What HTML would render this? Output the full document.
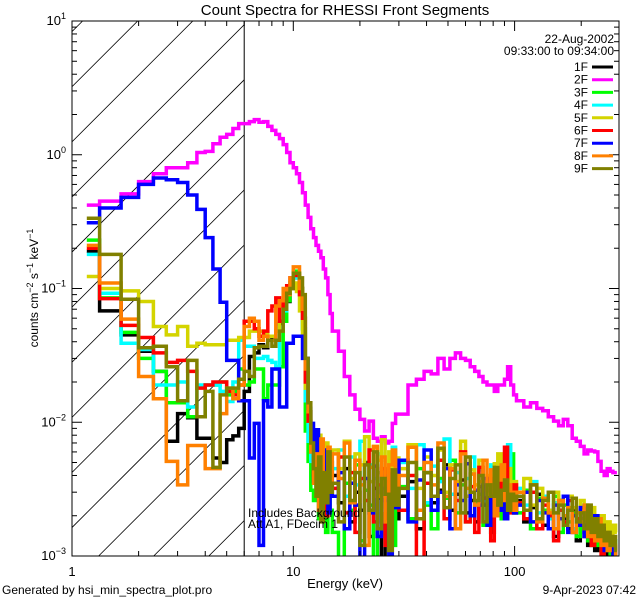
<!DOCTYPE html>
<html><head><meta charset="utf-8"><style>
html,body{margin:0;padding:0;background:#fff;}
svg{display:block;font-family:"Liberation Sans",sans-serif;}
</style></head><body>
<svg id="chart" width="640" height="600" viewBox="0 0 640 600" xmlns="http://www.w3.org/2000/svg">
<defs><clipPath id="plotclip"><rect x="72" y="21" width="547" height="535"/></clipPath>
<clipPath id="hatchclip"><rect x="72" y="21" width="172" height="535"/></clipPath></defs>
<rect width="640" height="600" fill="#fff"/>
<text x="345" y="15" font-size="15" text-anchor="middle">Count Spectra for RHESSI Front Segments</text>
<g id="hatch" clip-path="url(#hatchclip)"></g>
<line x1="244.2" y1="21" x2="244.2" y2="556" stroke="#000" stroke-width="1"/>
<g id="series" clip-path="url(#plotclip)"></g>
<rect x="72" y="21" width="547" height="535" fill="none" stroke="#000" stroke-width="1"/>
<g id="axes"></g>
<text x="345" y="588" font-size="13" text-anchor="middle">Energy (keV)</text>
<text transform="translate(38,288) rotate(-90)" font-size="12" text-anchor="middle">counts cm<tspan dy="-5" font-size="9">−2</tspan><tspan dy="5"> s</tspan><tspan dy="-5" font-size="9">−1</tspan><tspan dy="5"> keV</tspan><tspan dy="-5" font-size="9">−1</tspan></text>
<text x="614" y="43" font-size="12" text-anchor="end">22-Aug-2002</text>
<text x="614" y="55" font-size="12" text-anchor="end">09:33:00 to 09:34:00</text>
<g id="legend"></g>
<text x="248" y="517" font-size="12">Includes Background</text>
<text x="248" y="528" font-size="12">Att A1, FDecim 1</text>
<text x="2" y="594" font-size="12">Generated by hsi_min_spectra_plot.pro</text>
<text x="636" y="594" font-size="12" text-anchor="end">9-Apr-2023 07:42</text>
</svg>
<script>
// ---- data ----
const segmentNames = ["1F","2F","3F","4F","5F","6F","7F","8F","9F"];
const segmentColors = ["#000000","#ff00ff","#00ff00","#00ffff","#d4d400","#ff0000","#0000ff","#ff8000","#808000"];
const xTickValues = [1,10,100];
const xTickLabels = ["1","10","100"];
const yTickExponents = [-3,-2,-1,0,1];
const s1F = [0.19,0.068,0.045,0.034,0.024,0.0072,0.0116,0.0108,0.0076,0.0076,0.0054,0.005,0.0074,0.0079,0.009,0.017,0.031,0.033,0.038,0.036,0.044,0.041,0.048,0.055,0.068,0.08,0.10,0.12,0.12,0.10,0.06,0.025,0.012,0.008,0.005,0.0045,0.003,0.006,0.0022,0.0035,0.0028,0.004,
0.004,0.0025,0.0045,0.0018,0.003,0.0022,0.005,0.0014,0.0032,0.0027,0.0009,0.004,0.0024,0.0035,0.0019,
0.0028,0.0036,0.0016,0.0042,0.0025,0.0031,0.0048,0.0022,0.0029,0.0037,0.0021,0.0026,0.0018,0.0033,0.0024,0.0027,0.0015,0.0038,0.0022,0.0029,0.0019,0.0025,0.0031,0.0021,
0.0026,0.0018,0.0023,0.0029,0.0017,0.0021,0.0014,0.0026,0.0019,0.0016,0.0022,0.0013,0.0018,0.0015,0.0012,0.0017,0.0011,0.0014,0.0012,0.0010,0.0013,0.0011,0.0012,0.0010];
const s2F = [0.42,0.45,0.51,0.63,0.72,0.80,0.80,0.87,1.04,1.06,1.21,1.35,1.42,1.57,1.71,1.71,1.77,1.83,1.75,1.77,1.63,1.52,1.42,1.32,1.19,1.04,0.87,0.80,0.72,0.62,0.52,0.42,0.34,0.28,0.24,0.21,0.19,0.17,0.14,0.12,0.09,0.065,
0.048,0.034,0.022,0.016,0.0125,0.0105,0.0086,0.0102,0.0076,0.0072,0.0078,0.0070,0.0072,0.0098,0.0115,
0.0115,0.019,0.021,0.024,0.023,0.030,0.025,0.030,0.033,0.030,0.029,0.026,0.024,0.022,0.020,0.019,0.019,0.017,0.019,0.019,0.021,0.026,0.019,0.016,
0.0145,0.013,0.014,0.0127,0.0122,0.011,0.0102,0.0094,0.0105,0.0094,0.0076,0.0072,0.0066,0.0058,0.0062,0.0061,0.0060,0.0051,0.0043,0.0040,0.0045,0.0043,0.0042,0.0042];
const s3F = [0.23,0.085,0.047,0.030,0.024,0.014,0.014,0.011,0.011,0.019,0.019,0.02,0.016,0.017,0.025,0.019,0.02,0.025,0.025,0.015,0.019,0.019,0.019,0.026,0.057,0.081,0.11,0.135,0.13,0.10,0.05,0.0086,0.0051,0.0031,0.0026,0.0045,0.0019,0.0035,0.0025,0.0015,0.0030,0.0022,
0.0015,0.0009,0.0035,0.0022,0.0048,0.0013,0.0031,0.0024,0.0008,0.0042,0.0019,0.0028,0.0036,0.0012,0.0026,
0.0033,0.0019,0.0045,0.0024,0.0016,0.0038,0.0027,0.0052,0.0021,0.0034,0.0018,0.0041,0.0025,0.0029,0.0017,0.0036,0.0022,0.0031,0.0026,0.0019,0.0028,0.0035,0.0058,0.0024,
0.0021,0.0031,0.0016,0.0027,0.0022,0.0019,0.0028,0.0015,0.0024,0.0018,0.0021,0.0014,0.0019,0.0016,0.0013,0.0018,0.0012,0.0016,0.0011,0.0014,0.0012,0.0010,0.0013,0.0011];
const s4F = [0.18,0.092,0.039,0.035,0.019,0.019,0.02,0.013,0.019,0.019,0.019,0.017,0.0143,0.02,0.041,0.037,0.037,0.03,0.03,0.031,0.029,0.028,0.025,0.051,0.068,0.096,0.11,0.125,0.12,0.09,0.05,0.0145,0.0072,0.0051,0.0065,0.0080,0.0050,0.0070,0.0040,0.0060,0.0035,0.0050,
0.0045,0.0062,0.0028,0.0055,0.0034,0.0072,0.0026,0.0048,0.0038,0.0058,0.0022,0.0044,0.0031,0.0065,0.0027,
0.0050,0.0032,0.0068,0.0025,0.0047,0.0036,0.0075,0.0029,0.0042,0.0021,0.0038,0.0055,0.0031,0.0044,0.0026,0.0035,0.0048,0.0024,0.0032,0.0039,0.0058,0.0068,0.0035,0.0028,
0.0032,0.0024,0.0036,0.0021,0.0028,0.0019,0.0025,0.0022,0.0018,0.0026,0.0016,0.0021,0.0024,0.0015,0.0019,0.0013,0.0017,0.0014,0.0016,0.0012,0.0014,0.0011,0.0013,0.0012];
const s5F = [0.123,0.10,0.096,0.08,0.052,0.045,0.052,0.037,0.039,0.038,0.038,0.038,0.041,0.041,0.043,0.043,0.048,0.048,0.048,0.046,0.044,0.044,0.048,0.074,0.085,0.095,0.10,0.11,0.095,0.068,0.046,0.018,0.0102,0.0072,0.0065,0.0055,0.0080,0.0045,0.0060,0.0070,0.0050,0.0040,
0.0062,0.0045,0.0072,0.0038,0.0058,0.0048,0.0078,0.0036,0.0065,0.0052,0.0074,0.0042,0.0060,0.0035,0.0054,
0.0045,0.0068,0.0032,0.0055,0.0040,0.0062,0.0030,0.0048,0.0036,0.0072,0.0028,0.0044,0.0034,0.0052,0.0031,0.0040,0.0027,0.0049,0.0058,0.0033,0.0038,0.0045,0.0029,0.0036,
0.0030,0.0038,0.0024,0.0032,0.0027,0.0022,0.0030,0.0025,0.0020,0.0028,0.0023,0.0018,0.0026,0.0021,0.0017,0.0023,0.0019,0.0015,0.0020,0.0016,0.0018,0.0014,0.0017,0.0015];
const s6F = [0.20,0.084,0.053,0.043,0.033,0.028,0.029,0.024,0.018,0.019,0.02,0.02,0.017,0.016,0.019,0.057,0.057,0.050,0.044,0.048,0.068,0.074,0.085,0.057,0.081,0.105,0.12,0.13,0.125,0.09,0.06,0.02,0.0102,0.006,0.004,0.0065,0.0028,0.0050,0.0035,0.0020,0.0045,0.0030,
0.0032,0.0055,0.0021,0.0042,0.0015,0.0038,0.0026,0.0062,0.0018,0.0034,0.0045,0.0012,0.0036,0.0024,0.0048,
0.0022,0.0040,0.0009,0.0035,0.0028,0.0052,0.0019,0.0044,0.0026,0.0060,0.0018,0.0033,0.0015,0.0046,0.0027,0.0038,0.0013,0.0031,0.0024,0.0042,0.0065,0.0029,0.0021,0.0034,
0.0025,0.0019,0.0030,0.0016,0.0024,0.0020,0.0013,0.0022,0.0018,0.0026,0.0015,0.0019,0.0023,0.0014,0.0017,0.0012,0.0016,0.0013,0.0010,0.0014,0.0011,0.0013,0.0009,0.0012];
const s7F = [0.31,0.40,0.48,0.60,0.67,0.65,0.62,0.50,0.39,0.24,0.14,0.079,0.029,0.029,0.0145,0.0145,0.0054,0.0098,0.0012,0.0145,0.013,0.025,0.025,0.013,0.013,0.039,0.039,0.044,0.044,0.044,0.030,0.030,0.0127,0.0098,0.0036,0.0088,0.0026,0.0045,0.0030,0.0062,0.0021,0.0050,
0.0028,0.0042,0.0016,0.0035,0.0024,0.0009,0.0038,0.0021,0.0047,0.0014,0.0032,0.0026,0.0008,0.0041,0.0023,
0.0052,0.0018,0.0037,0.0062,0.0022,0.0030,0.0045,0.0016,0.0034,0.0026,0.0049,0.0020,0.0031,0.0024,0.0038,0.0017,0.0029,0.0036,0.0022,0.0027,0.0019,0.0033,0.0025,0.0021,
0.0024,0.0030,0.0018,0.0026,0.0021,0.0016,0.0024,0.0019,0.0028,0.0015,0.0020,0.0017,0.0023,0.0014,0.0018,0.0015,0.0020,0.0013,0.0016,0.0011,0.0014,0.0012,0.0010,0.0012];
const s8F = [0.21,0.11,0.059,0.022,0.015,0.0051,0.0034,0.0067,0.0067,0.0045,0.0045,0.0116,0.018,0.015,0.019,0.052,0.06,0.057,0.041,0.044,0.041,0.041,0.074,0.081,0.10,0.09,0.12,0.145,0.145,0.10,0.07,0.025,0.012,0.006,0.0035,0.0058,0.0022,0.0075,0.0040,0.0030,0.0065,0.0033,
0.0058,0.0038,0.0070,0.0025,0.0052,0.0034,0.0012,0.0046,0.0066,0.0028,0.0055,0.0018,0.0048,0.0062,0.0030,
0.0040,0.0065,0.0022,0.0050,0.0034,0.0070,0.0028,0.0045,0.0016,0.0058,0.0032,0.0041,0.0024,0.0036,0.0052,0.0029,0.0044,0.0020,0.0037,0.0048,0.0026,0.0034,0.0030,0.0022,
0.0030,0.0022,0.0034,0.0018,0.0027,0.0021,0.0016,0.0026,0.0020,0.0023,0.0015,0.0021,0.0018,0.0024,0.0014,0.0017,0.0013,0.0019,0.0012,0.0015,0.0011,0.0014,0.0012,0.0010];
const s9F = [0.335,0.18,0.083,0.036,0.037,0.026,0.0145,0.029,0.011,0.017,0.0046,0.016,0.018,0.018,0.021,0.024,0.022,0.036,0.037,0.037,0.041,0.037,0.041,0.048,0.07,0.092,0.10,0.13,0.13,0.12,0.09,0.03,0.014,0.007,0.0045,0.0028,0.0055,0.0018,0.0042,0.0025,0.0060,0.0030,
0.0035,0.0018,0.0055,0.0026,0.0042,0.0012,0.0048,0.0022,0.0060,0.0016,0.0038,0.0029,0.0011,0.0044,0.0024,
0.0032,0.0050,0.0019,0.0042,0.0028,0.0064,0.0023,0.0038,0.0048,0.0021,0.0055,0.0030,0.0026,0.0040,0.0018,0.0034,0.0028,0.0046,0.0024,0.0031,0.0037,0.0022,0.0029,0.0026,
0.0028,0.0022,0.0034,0.0019,0.0026,0.0030,0.0021,0.0024,0.0017,0.0022,0.0027,0.0018,0.0021,0.0016,0.0024,0.0015,0.0019,0.0014,0.0017,0.0013,0.0015,0.0012,0.0014,0.0011];
const seriesValues = [s1F,s2F,s3F,s4F,s5F,s6F,s7F,s8F,s9F];
// energy binning: [start, end, width]
const binSegments = [[1,15,1/3],[15,30,1],[30,102,3],[102,294,8]];

// ---- scales ----
const X0=72, X1=619, Y0=21, Y1=556;
const xMinLog=0, decX=221.3;
const yMaxLog=1, decY=(Y1-Y0)/4;
function xs(e){return X0+(Math.log10(e)-xMinLog)*decX;}
function ys(v){let l=Math.log10(Math.max(v,1e-4));return Y0+(yMaxLog-l)*decY;}
const NS="http://www.w3.org/2000/svg";
function mk(tag,attrs,parent){const el=document.createElementNS(NS,tag);for(const k in attrs)el.setAttribute(k,attrs[k]);parent.appendChild(el);return el;}

const edges=[];
binSegments.forEach((s,si)=>{const n=Math.round((s[1]-s[0])/s[2]);for(let k=0;k<n;k++){if(!(si>0&&k===0&&edges.length&&Math.abs(edges[edges.length-1]-s[0])<1e-9))edges.push(s[0]+k*s[2]);else edges.push(s[0]+k*s[2]);}});
// dedupe and close
const E=[];edges.forEach(e=>{if(!E.length||Math.abs(E[E.length-1]-e)>1e-9)E.push(e);});E.push(binSegments[binSegments.length-1][1]);
const centers=[];for(let i=0;i<E.length-1;i++)centers.push((E[i]+E[i+1])/2);

// hatch
const hg=document.getElementById('hatch');
for(let k=-2;k<=13;k++){const c=158.7+k*55.1;
  const ln=mk('line',{x1:c-556,y1:556,x2:c-21,y2:21,stroke:'#000','stroke-width':0.8},hg);
  
  }

// series
const sg=document.getElementById('series');
seriesValues.forEach((vals,si)=>{
  const n=Math.min(vals.length,centers.length);
  let d='M'+xs(centers[0]).toFixed(1)+' '+ys(vals[0]).toFixed(1);
  for(let i=1;i<n;i++){d+=' H'+xs(E[i]).toFixed(1)+' V'+ys(vals[i]).toFixed(1);}
  d+=' H'+xs(centers[n-1]).toFixed(1);
  const p=mk('path',{d:d,fill:'none',stroke:segmentColors[si],'stroke-width':3.5,'stroke-linejoin':'miter'},sg);
  
  
});

// axes ticks
const ag=document.getElementById('axes');
for(let d=0;d<3;d++){for(let m=1;m<10;m++){const e=Math.pow(10,d)*m;const x=xs(e);if(x>X1)continue;const L=m===1?10:5;
  const t1=mk('line',{x1:x,y1:Y1,x2:x,y2:Y1-L,stroke:'#000','stroke-width':1},ag);
  
  
  const t2=mk('line',{x1:x,y1:Y0,x2:x,y2:Y0+L,stroke:'#000','stroke-width':1},ag);
  
  }}
xTickValues.forEach((v,i)=>{const t=mk('text',{x:xs(v),y:576,'font-size':13,'text-anchor':'middle'},ag);t.textContent=xTickLabels[i];
  
  });
for(let d=-3;d<1;d++){for(let m=1;m<10;m++){const v=Math.pow(10,d)*m;const y=ys(v);const L=m===1?10:5;
  const t1=mk('line',{x1:X0,y1:y,x2:X0+L,y2:y,stroke:'#000','stroke-width':1},ag);
  
  
  const t2=mk('line',{x1:X1,y1:y,x2:X1-L,y2:y,stroke:'#000','stroke-width':1},ag);
  
  }}
yTickExponents.forEach(ex=>{const y=ys(Math.pow(10,ex));
  const t=mk('text',{x:66,y:y+4,'font-size':13,'text-anchor':'end'},ag);
  
  
  const a=mk('tspan',{},t);a.textContent='10';
  const b=mk('tspan',{dy:-6,'font-size':9},t);b.textContent=ex<0?('−'+(-ex)):String(ex);});

// legend
const lg=document.getElementById('legend');
segmentNames.forEach((nm,i)=>{const y=67+i*12.7;
  const t=mk('text',{x:588,y:y+4,'font-size':12,'text-anchor':'end'},lg);t.textContent=nm;
  
  
  const l=mk('line',{x1:592,y1:y,x2:613,y2:y,stroke:segmentColors[i],'stroke-width':3},lg);
  
  });
</script>
</body></html>
